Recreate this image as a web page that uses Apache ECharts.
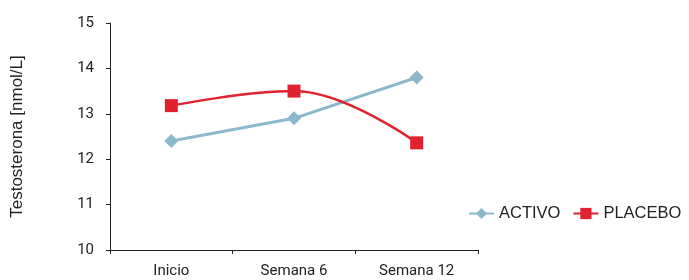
<!DOCTYPE html>
<html>
<head>
<meta charset="utf-8">
<script src="https://cdn.jsdelivr.net/npm/echarts@6/dist/echarts.min.js"></script>
<style>
html,body{margin:0;padding:0;background:#fff;}
#tu1{width:689px;height:280px;}
</style>
</head>
<body>
<div id="tu1"></div>
<script>
// 类别与数据
const categories = ['Inicio', 'Semana 6', 'Semana 12']
const activo = [12.4, 12.9, 13.8]
const placebo = [13.18, 13.5, 12.36]
const yTicks = [10, 15, 1] // min, max, interval

var myChart = echarts.init(document.getElementById('tu1'))
var option = {
    animation: false,
    textStyle: { fontFamily: 'Roboto' },
    grid: { left: 110, right: 211, top: 23, bottom: 30 },
    legend: {
        orient: 'horizontal',
        left: 468,
        top: 205,
        width: 260,
        padding: 0,
        itemWidth: 25,
        itemHeight: 14,
        itemGap: 12,
        textStyle: { color: '#222', fontSize: 16.5, fontFamily: 'Liberation Sans' },
        data: ['ACTIVO', 'PLACEBO']
    },
    xAxis: {
        type: 'category',
        data: categories,
        boundaryGap: true,
        axisLine: { lineStyle: { color: '#222', width: 1 } },
        axisTick: { show: true, length: 4, lineStyle: { color: '#222' } },
        axisLabel: { color: '#222', fontSize: 15, margin: 14 }
    },
    yAxis: {
        type: 'value',
        min: yTicks[0],
        max: yTicks[1],
        interval: yTicks[2],
        name: 'Testosterona [nmol/L]',
        nameLocation: 'middle',
        nameGap: 84,
        nameTextStyle: { color: '#222', fontSize: 17, fontFamily: 'Liberation Sans' },
        axisLine: { show: true, lineStyle: { color: '#222', width: 1 } },
        axisTick: { show: true, length: 4, lineStyle: { color: '#222' } },
        axisLabel: { color: '#222', fontSize: 15, margin: 16 },
        splitLine: { show: false }
    },
    series: [{
        name: 'ACTIVO',
        type: 'line',
        data: activo,
        symbol: 'diamond',
        symbolSize: 14,
        itemStyle: { color: '#8bb9cb' },
        lineStyle: { color: '#8bb9cb', width: 3 }
    }, {
        name: 'PLACEBO',
        type: 'line',
        data: placebo,
        smooth: 0.4,
        symbol: 'rect',
        symbolSize: 13,
        itemStyle: { color: '#e0212f' },
        lineStyle: { color: '#e0212f', width: 2.5 }
    }]
}
myChart.setOption(option)
</script>
</body>
</html>
